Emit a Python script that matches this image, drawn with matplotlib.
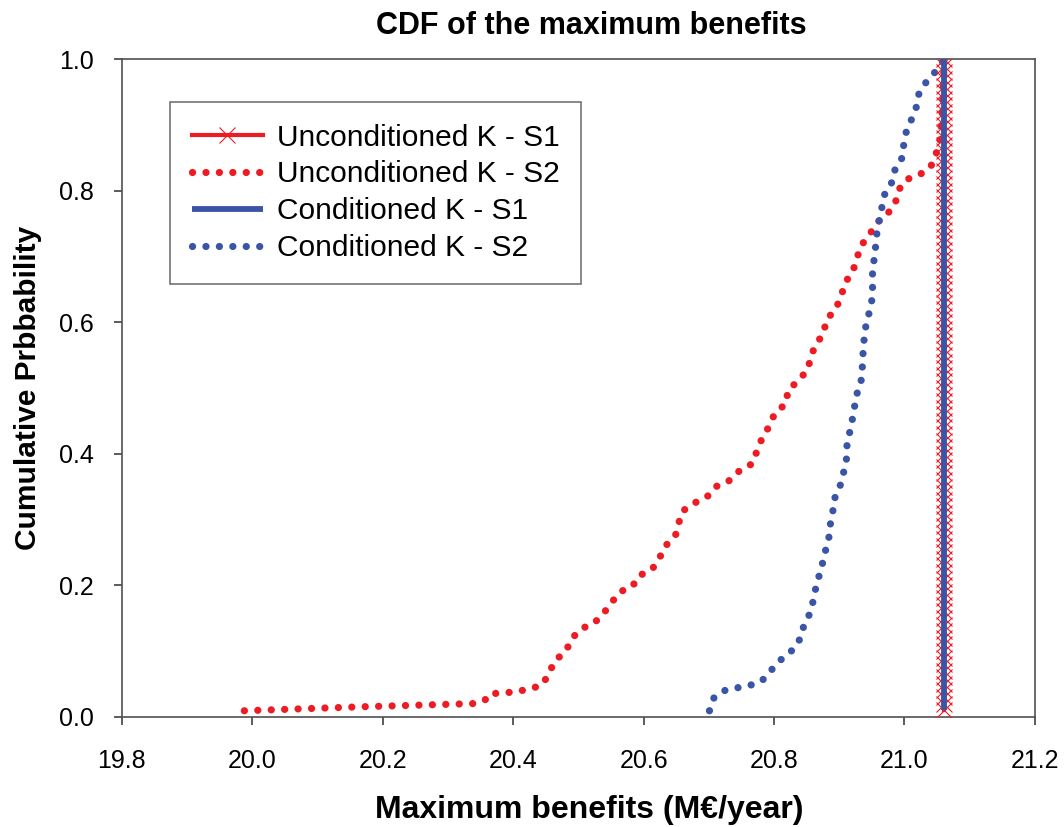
import numpy as np
import matplotlib
matplotlib.use("Agg")
import matplotlib.pyplot as plt

plt.rcParams['font.family'] = ['Liberation Sans', 'DejaVu Sans']

# Unconditioned K - S2
uncondS2_x = [19.988, 20.165, 20.342, 20.360, 20.365, 20.385, 20.404, 20.425, 20.444, 20.455,
              20.463, 20.481, 20.491, 20.505, 20.524, 20.540, 20.552, 20.564, 20.583, 20.592,
              20.612, 20.623, 20.632, 20.649, 20.654, 20.660, 20.680, 20.699, 20.711, 20.730,
              20.747, 20.767, 20.773, 20.781, 20.792, 20.801, 20.819, 20.821, 20.837, 20.852,
              20.856, 20.864, 20.876, 20.880, 20.895, 20.903, 20.909, 20.921, 20.927, 20.933,
              20.947, 20.956, 20.974, 20.986, 20.990, 21.003, 21.024, 21.040, 21.048, 21.054,
              21.058, 21.061]
uncondS2_p = [0.009, 0.015, 0.020, 0.027, 0.035, 0.036, 0.038, 0.042, 0.048, 0.065,
              0.084, 0.100, 0.120, 0.134, 0.142, 0.159, 0.175, 0.190, 0.198, 0.214,
              0.223, 0.238, 0.258, 0.276, 0.295, 0.313, 0.326, 0.336, 0.350, 0.358,
              0.374, 0.385, 0.402, 0.422, 0.441, 0.461, 0.477, 0.496, 0.511, 0.528,
              0.547, 0.566, 0.583, 0.603, 0.621, 0.640, 0.660, 0.678, 0.697, 0.716,
              0.734, 0.750, 0.765, 0.781, 0.800, 0.817, 0.825, 0.836, 0.855, 0.874,
              0.920, 1.000]

# Conditioned K - S2
condS2_x = [20.701, 20.708, 20.725, 20.744, 20.764, 20.781, 20.795, 20.811, 20.829, 20.841,
            20.846, 20.855, 20.860, 20.864, 20.869, 20.874, 20.879, 20.884, 20.886, 20.890,
            20.892, 20.901, 20.906, 20.911, 20.911, 20.915, 20.919, 20.923, 20.925, 20.933,
            20.935, 20.936, 20.937, 20.939, 20.942, 20.948, 20.951, 20.951, 20.951, 20.954,
            20.956, 20.958, 20.962, 20.966, 20.970, 20.982, 20.986, 20.997, 20.999, 21.003,
            21.011, 21.018, 21.022, 21.033, 21.049, 21.061]
condS2_p = [0.009, 0.029, 0.040, 0.044, 0.048, 0.054, 0.070, 0.087, 0.102, 0.120,
            0.140, 0.157, 0.176, 0.196, 0.214, 0.232, 0.253, 0.272, 0.291, 0.311,
            0.330, 0.350, 0.369, 0.389, 0.408, 0.428, 0.447, 0.467, 0.486, 0.506,
            0.526, 0.544, 0.563, 0.583, 0.602, 0.621, 0.641, 0.661, 0.680, 0.699,
            0.718, 0.739, 0.758, 0.778, 0.796, 0.815, 0.835, 0.851, 0.872, 0.891,
            0.909, 0.927, 0.947, 0.965, 0.983, 1.000]

# S1: every realisation gives the same maximum benefit
s1_benefit = 21.061
s1_levels = np.arange(1, 101) / 100   # empirical CDF levels k/N

red = '#ED1C24'
blue = '#3A55A5'
dots = (0, (0.01, 1.85))

fig = plt.figure(figsize=(10.64, 8.27), dpi=100)
ax = fig.add_axes([0.1144, 0.1334, 0.8583, 0.7949])

#This plots the curves
ax.plot(uncondS2_x, uncondS2_p, color=red, lw=5.2, linestyle=dots, dash_capstyle='round',
        label='Unconditioned K - S2', zorder=2)
ax.plot(condS2_x, condS2_p, color=blue, lw=5.2, linestyle=dots, dash_capstyle='round',
        label='Conditioned K - S2', zorder=2)
ax.plot(np.full(len(s1_levels), s1_benefit), s1_levels, color=red, lw=3, marker='x',
        ms=12, mew=0.8, label='Unconditioned K - S1', zorder=3)
ax.plot([s1_benefit, s1_benefit], [s1_levels[0], s1_levels[-1]], color=blue, lw=4.2,
        solid_capstyle='butt', label='Conditioned K - S1', zorder=4)

# axes
ax.set_xlim(19.8, 21.2)
ax.set_ylim(0, 1.0)
ax.set_xticks(np.arange(19.8, 21.21, 0.2))
ax.set_yticks(np.arange(0, 1.01, 0.2))
ax.xaxis.set_major_formatter(matplotlib.ticker.FormatStrFormatter('%.1f'))
ax.yaxis.set_major_formatter(matplotlib.ticker.FormatStrFormatter('%.1f'))
ax.tick_params(direction='out', length=6, width=1.2, colors='#404040', labelcolor='black',
               labelsize=18, top=False, right=False)
ax.tick_params(axis='x', pad=17)
ax.tick_params(axis='y', pad=14)
for sp in ax.spines.values():
    sp.set_color('#505050')
    sp.set_linewidth(1.2)

# Set our lables for the graph
ax.set_title('CDF of the maximum benefits', fontsize=22, fontweight='bold', pad=18, x=0.514)
ax.set_xlabel('Maximum benefits (M€/year)', fontsize=23, fontweight='bold', labelpad=16, x=0.512)
ax.set_ylabel('Cumulative Prbbability', fontsize=21.5, fontweight='bold', labelpad=12)

handles, labels = ax.get_legend_handles_labels()
order = [2, 0, 3, 1]
leg = ax.legend([handles[i] for i in order], [labels[i] for i in order],
                loc='upper left', bbox_to_anchor=(0.053, 0.935), fontsize=21.5,
                frameon=True, fancybox=False, numpoints=1, handlelength=2.4,
                handletextpad=0.45, labelspacing=0.3, borderpad=0.72, borderaxespad=0)
leg.get_frame().set_edgecolor('#505050')
leg.get_frame().set_linewidth(1.2)

plt.savefig('out.png', dpi=100)
